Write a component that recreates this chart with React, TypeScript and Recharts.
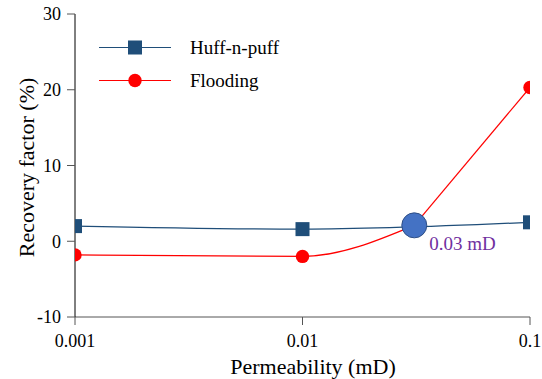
import React from "react";
import {
  ComposedChart,
  Line,
  Scatter,
  XAxis,
  YAxis,
  Legend,
} from "recharts";

// Permeability (mD) on a log axis
const permeability = [0.001, 0.01, 0.1];
const huffNPuff = [2.0, 1.6, 2.5];
const flooding = [-1.8, -2.0, 20.3];

// crossover marker (the flooding curve passes through it)
const crossK = 0.031;
const crossRF = 2.1;
const crossLabel = "0.03 mD";

const xTicks = [0.001, 0.01, 0.1];
const yTicks = [-10, 0, 10, 20, 30];

const SERIF = "Liberation Serif";
const NAVY = "#1F4E79";
const RED = "#FF0000";

const huffData = permeability.map((k, i) => ({ k, rf: huffNPuff[i] }));
const floodData = [
  ...permeability.map((k, i) => ({ k, rf: flooding[i] })),
  { k: crossK, rf: crossRF },
].sort((a, b) => a.k - b.k);
// the curve bends at the crossover (hidden under the marker), so draw it in two pieces
const floodLow = floodData.filter((d) => d.k <= crossK);
const floodHigh = floodData.filter((d) => d.k >= crossK);
const crossData = [{ k: crossK, rf: crossRF, label: crossLabel }];

const legendItems = [
  { name: "Huff-n-puff", color: NAVY, marker: "square" },
  { name: "Flooding", color: RED, marker: "circle" },
];

const SquareDot = (p: any) => (
  <rect key={`sq-${p.index}`} x={p.cx - 7} y={p.cy - 7} width={14} height={14} fill={NAVY} />
);

const RoundDot = (p: any) => {
  if (p.payload?.k === crossK) return <g key={`rd-${p.index}`} />;
  return <circle key={`rd-${p.index}`} cx={p.cx} cy={p.cy} r={6.7} fill={RED} />;
};

const CrossShape = (p: any) => (
  <g>
    <circle cx={p.cx} cy={p.cy} r={12.5} fill="#4472C4" stroke="#2F4F86" strokeWidth={1} />
    <text x={p.cx + 15} y={p.cy + 25} fontFamily={SERIF} fontSize={19} fill="#7030A0">
      {p.payload?.label}
    </text>
  </g>
);

const LegendBox = () => (
  <div style={{ position: "relative", width: 220, height: 60, fontFamily: SERIF }}>
    {legendItems.map((it, i) => (
      <div
        key={it.name}
        style={{ position: "absolute", left: 0, top: i * 32.5, height: 21, display: "flex", alignItems: "center" }}
      >
        <svg width={72} height={21}>
          <line x1={0} x2={72} y1={10.5} y2={10.5} stroke={it.color} strokeWidth={1.2} />
          {it.marker === "square" ? (
            <rect x={29} y={3.5} width={14} height={14} fill={it.color} />
          ) : (
            <circle cx={36} cy={10.5} r={6.7} fill={it.color} />
          )}
        </svg>
        <span style={{ marginLeft: 19, fontSize: 19, lineHeight: "21px", color: "#000", whiteSpace: "nowrap" }}>
          {it.name}
        </span>
      </div>
    ))}
  </div>
);

export default function App() {
  return (
    <div style={{ position: "absolute", left: 0, top: 0 }}>
      <ComposedChart width={542} height={379} margin={{ top: 14, right: 12, bottom: 0, left: 0 }}>
        <XAxis
          dataKey="k"
          type="number"
          scale="log"
          domain={[0.001, 0.1]}
          ticks={xTicks}
          allowDataOverflow
          height={62}
          tickFormatter={(v) => `${v}`}
          tick={{ fontFamily: SERIF, fontSize: 18, fill: "#000" }}
          tickSize={8}
          tickMargin={9}
          stroke="#555"
          label={{
            content: () => (
              <text x={313} y={374} textAnchor="middle" fontFamily={SERIF} fontSize={22} fill="#000">
                Permeability (mD)
              </text>
            ),
          }}
        />
        <XAxis
          xAxisId="top"
          orientation="top"
          dataKey="k"
          type="number"
          scale="log"
          domain={[0.001, 0.1]}
          allowDataOverflow
          height={0}
          tick={false}
          tickLine={false}
          stroke="#555"
        />
        <YAxis
          type="number"
          domain={[-10, 30]}
          ticks={yTicks}
          allowDataOverflow
          width={75}
          tick={{ fontFamily: SERIF, fontSize: 18, fill: "#000" }}
          tickSize={8}
          tickMargin={6}
          axisLine={{ stroke: "#000" }}
          tickLine={{ stroke: "#555" }}
          label={{
            content: () => (
              <text
                transform="translate(34,167.5) rotate(-90)"
                textAnchor="middle"
                fontFamily={SERIF}
                fontSize={22}
                fill="#000"
              >
                Recovery factor (%)
              </text>
            ),
          }}
        />
        <YAxis
          yAxisId="right"
          orientation="right"
          type="number"
          domain={[-10, 30]}
          allowDataOverflow
          width={0}
          tick={false}
          tickLine={false}
          stroke="#555"
        />
        <Legend
          layout="horizontal"
          verticalAlign="middle"
          align="center"
          wrapperStyle={{ left: 99, top: 37, width: 220 }}
          content={() => <LegendBox />}
        />

        <Line
          data={huffData}
          dataKey="rf"
          type="monotone"
          stroke={NAVY}
          strokeWidth={1.2}
          dot={SquareDot}
          activeDot={false}
          isAnimationActive={false}
          name="Huff-n-puff"
        />
        <Line
          data={floodLow}
          dataKey="rf"
          type="monotone"
          stroke={RED}
          strokeWidth={1.2}
          dot={RoundDot}
          activeDot={false}
          isAnimationActive={false}
          name="Flooding"
        />
        <Line
          data={floodHigh}
          dataKey="rf"
          type="monotone"
          stroke={RED}
          strokeWidth={1.2}
          dot={RoundDot}
          activeDot={false}
          isAnimationActive={false}
          name="Flooding (upper)"
        />
        <Scatter data={crossData} dataKey="rf" shape={CrossShape} isAnimationActive={false} />
      </ComposedChart>
    </div>
  );
}
